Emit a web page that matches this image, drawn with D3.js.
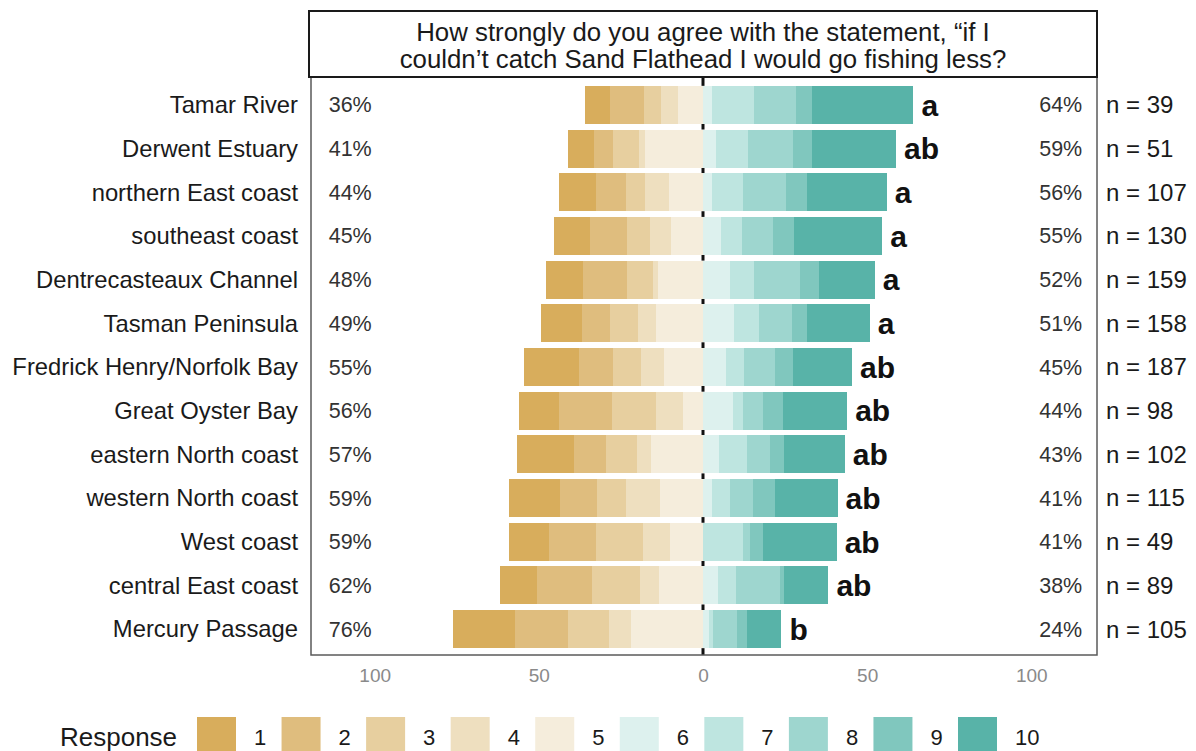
<!DOCTYPE html>
<html>
<head>
<meta charset="utf-8">
<script src="https://cdn.jsdelivr.net/npm/d3@7"></script>
<style>
  html, body { margin: 0; padding: 0; background: #fff; }
  svg { display: block; font-family: "Liberation Sans", Arial, Helvetica, sans-serif; }
</style>
</head>
<body>
<svg id="chart" width="1196" height="751"></svg>
<script>
// Survey regions, top to bottom
const regions = [
  "Tamar River", "Derwent Estuary", "northern East coast", "southeast coast",
  "Dentrecasteaux Channel", "Tasman Peninsula", "Fredrick Henry/Norfolk Bay",
  "Great Oyster Bay", "eastern North coast", "western North coast",
  "West coast", "central East coast", "Mercury Passage"
];
const sampleSizes = [39, 51, 107, 130, 159, 158, 187, 98, 102, 115, 49, 89, 105];
const groupLetters = ["a", "ab", "a", "a", "a", "a", "ab", "ab", "ab", "ab", "ab", "ab", "b"];

// Percentage of respondents giving each response (1 = strongly disagree ... 10 = strongly agree)
const level1  = [7.7, 7.8, 11.2, 11.0, 11.2, 12.3, 16.9, 12.2, 17.6, 15.3, 12.2, 11.2, 19.0];
const level2  = [10.3, 5.9, 9.3, 11.4, 13.5, 8.7, 10.3, 16.3, 9.8, 11.4, 14.3, 16.9, 16.2];
const level3  = [5.1, 7.8, 5.6, 6.9, 7.8, 8.3, 8.5, 13.3, 9.3, 8.9, 14.3, 14.6, 12.4];
const level4  = [5.1, 2.0, 7.5, 6.5, 1.5, 5.7, 6.9, 8.2, 4.4, 10.4, 8.2, 5.6, 6.7];
const level5  = [7.7, 17.6, 10.3, 9.6, 13.7, 14.2, 12.0, 6.1, 15.7, 13.0, 10.2, 13.5, 21.9];
const level6  = [2.6, 3.9, 2.8, 5.4, 8.3, 9.3, 7.1, 9.2, 4.8, 2.7, 0.0, 4.5, 1.9];
const level7  = [12.8, 9.8, 9.3, 6.4, 7.3, 7.7, 5.3, 3.1, 8.6, 5.4, 12.2, 5.6, 1.0];
const level8  = [12.8, 13.7, 13.1, 9.6, 14.0, 10.1, 9.6, 6.1, 7.1, 7.1, 2.0, 13.5, 7.6];
const level9  = [5.1, 5.9, 6.5, 6.4, 5.6, 4.6, 5.4, 6.1, 4.1, 6.6, 4.1, 1.1, 2.9];
const level10 = [30.8, 25.5, 24.3, 26.8, 17.1, 19.1, 18.0, 19.4, 18.6, 19.2, 22.4, 13.5, 10.5];

const responseLevels = ["1", "2", "3", "4", "5", "6", "7", "8", "9", "10"];
const axisTicks = [-100, -50, 0, 50, 100];

const levelValues = [level1, level2, level3, level4, level5, level6, level7, level8, level9, level10];
const palette = ["#d8ad5c", "#dfbd7e", "#e7cf9f", "#eedfbf", "#f5eddc",
                 "#ddf1ee", "#bee5e0", "#9ed6cf", "#80c7be", "#58b3a8"];

const svg = d3.select("#chart");

const panel = { left: 311, right: 1097, top: 77, bottom: 655 };

const x = d3.scaleLinear().domain([-120, 120]).range([309, 1097]);
const y = d3.scaleBand().domain(regions).range([83, 651]).paddingInner(0.13).paddingOuter(0.065);
const color = d3.scaleOrdinal().domain(responseLevels).range(palette);

// Build segments: disagreement (1-5) stacks leftwards from zero, agreement (6-10) rightwards
const segments = [];
const leftTotals = [], rightTotals = [];
regions.forEach((region, i) => {
  let pos = 0;
  for (let k = 4; k >= 0; k--) {
    const v = levelValues[k][i];
    segments.push({ region, level: responseLevels[k], x0: -(pos + v), x1: -pos });
    pos += v;
  }
  leftTotals.push(pos);
  pos = 0;
  for (let k = 5; k < 10; k++) {
    const v = levelValues[k][i];
    segments.push({ region, level: responseLevels[k], x0: pos, x1: pos + v });
    pos += v;
  }
  rightTotals.push(pos);
});

// Zero reference line, visible only in the gaps between the rows of bars
const gapEdges = [panel.top];
regions.forEach(r => { gapEdges.push(y(r), y(r) + y.bandwidth()); });
gapEdges.push(panel.bottom);
const gaps = d3.range(0, gapEdges.length, 2).map(i => [gapEdges[i], gapEdges[i + 1]]);
svg.append("g").selectAll("line")
  .data(gaps)
  .join("line")
  .attr("x1", x(0)).attr("x2", x(0))
  .attr("y1", d => d[0]).attr("y2", d => d[1])
  .attr("stroke", "#111").attr("stroke-width", 3);

// Bars
svg.append("g").attr("shape-rendering", "crispEdges").selectAll("rect")
  .data(segments.filter(d => d.x1 > d.x0))
  .join("rect")
  .attr("x", d => x(d.x0))
  .attr("width", d => x(d.x1) - x(d.x0))
  .attr("y", d => y(d.region))
  .attr("height", y.bandwidth())
  .attr("fill", d => color(d.level));

// Panel border
svg.append("rect")
  .attr("x", panel.left).attr("y", panel.top)
  .attr("width", panel.right - panel.left).attr("height", panel.bottom - panel.top)
  .attr("fill", "none").attr("stroke", "#5a5a5a").attr("stroke-width", 1.5);

// Title strip
svg.append("rect")
  .attr("x", 309).attr("y", 11).attr("width", 788).attr("height", 66)
  .attr("fill", "#fff").attr("stroke", "#1a1a1a").attr("stroke-width", 2);
const title = svg.append("text")
  .attr("x", 703).attr("text-anchor", "middle")
  .attr("font-size", 25.8).attr("fill", "#1a1a1a");
title.append("tspan").attr("x", 703).attr("y", 41)
  .text("How strongly do you agree with the statement, \u201cif I");
title.append("tspan").attr("x", 703).attr("y", 68)
  .text("couldn\u2019t catch Sand Flathead I would go fishing less?");

const mid = r => y(r) + y.bandwidth() / 2;

// Region labels
svg.append("g").selectAll("text")
  .data(regions)
  .join("text")
  .attr("x", 298).attr("y", d => mid(d)).attr("dy", "0.35em")
  .attr("text-anchor", "end").attr("font-size", 23.8).attr("fill", "#1a1a1a")
  .text(d => d);

// Totals on each side
svg.append("g").selectAll("text")
  .data(regions)
  .join("text")
  .attr("x", x(-114)).attr("y", d => mid(d)).attr("dy", "0.35em")
  .attr("font-size", 21.5).attr("fill", "#333")
  .text((d, i) => Math.round(leftTotals[i]) + "%");
svg.append("g").selectAll("text")
  .data(regions)
  .join("text")
  .attr("x", x(115.5)).attr("y", d => mid(d)).attr("dy", "0.35em")
  .attr("text-anchor", "end").attr("font-size", 21.5).attr("fill", "#333")
  .text((d, i) => Math.round(rightTotals[i]) + "%");

// Sample sizes
svg.append("g").selectAll("text")
  .data(regions)
  .join("text")
  .attr("x", 1106).attr("y", d => mid(d)).attr("dy", "0.35em")
  .attr("font-size", 24).attr("fill", "#1a1a1a")
  .text((d, i) => "n = " + sampleSizes[i]);

// Significance letters at the end of agreement bars
svg.append("g").selectAll("text")
  .data(regions)
  .join("text")
  .attr("x", (d, i) => x(rightTotals[i]) + 8).attr("y", d => mid(d)).attr("dy", "0.36em")
  .attr("font-size", 30).attr("font-weight", "bold").attr("fill", "#111")
  .text((d, i) => groupLetters[i]);

// Axis labels
const axis = d3.axisBottom(x).tickValues(axisTicks).tickFormat(d => Math.abs(d)).tickSize(0).tickPadding(14);
const axisG = svg.append("g").attr("transform", `translate(0,${panel.bottom})`).call(axis);
axisG.select(".domain").remove();
axisG.selectAll("text")
  .attr("font-size", 19).attr("fill", "#8a8a8a")
  .attr("font-family", "Liberation Sans, Arial, sans-serif");

// Legend
const legend = svg.append("g");
legend.append("text")
  .attr("x", 60).attr("y", 746).attr("font-size", 26).attr("fill", "#1a1a1a")
  .text("Response");
const legendX = d3.scalePoint().domain(responseLevels).range([197, 958]);
const item = legend.selectAll("g.item")
  .data(responseLevels)
  .join("g").attr("class", "item")
  .attr("transform", d => `translate(${legendX(d)},717)`);
item.append("rect")
  .attr("width", 39).attr("height", 38)
  .attr("fill", d => color(d));
item.append("text")
  .attr("x", 57).attr("y", 28).attr("font-size", 22).attr("fill", "#1a1a1a")
  .text(d => d);
</script>
</body>
</html>
